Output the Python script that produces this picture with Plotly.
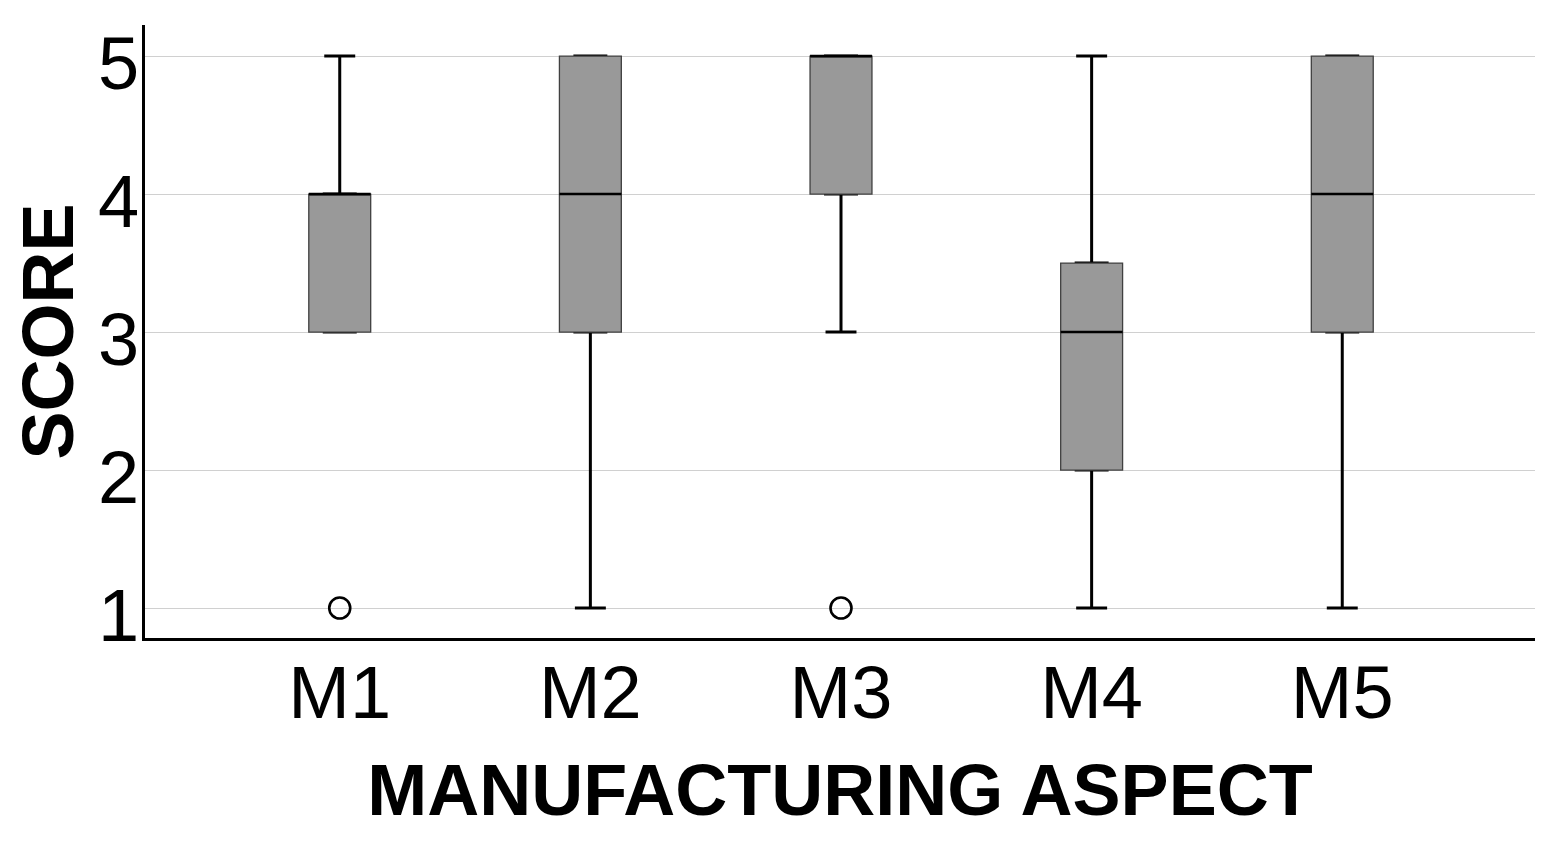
import plotly.graph_objects as go

categories = ["M1", "M2", "M3", "M4", "M5"]
q1 = [3, 3, 4, 2, 3]
median = [4, 4, 5, 3, 4]
q3 = [4, 5, 5, 3.5, 5]
lower_fence = [3, 1, 3, 1, 1]
upper_fence = [5, 5, 5, 5, 5]
outlier_cats = ["M1", "M3"]
outlier_vals = [1, 1]
y_ticks = [1, 2, 3, 4, 5]

FONT = "Liberation Sans, Arial, sans-serif"
BOX_W = 0.247

fig = go.Figure()

# whiskers (black, thick) - narrow box hidden behind the main box
fig.add_trace(go.Box(
    x=categories, q1=q1, median=median, q3=q3,
    lowerfence=lower_fence, upperfence=upper_fence,
    width=BOX_W / 2, whiskerwidth=1,
    fillcolor="#999999", line=dict(color="black", width=3),
    hoverinfo="skip", showlegend=False,
))
# main box (gray fill, thin dark outline)
fig.add_trace(go.Box(
    x=categories, q1=q1, median=median, q3=q3,
    lowerfence=q1, upperfence=q3,
    width=BOX_W, whiskerwidth=0,
    fillcolor="#999999", line=dict(color="#404040", width=1.3),
    showlegend=False,
))
# median line (black)
fig.add_trace(go.Box(
    x=categories, q1=median, median=median, q3=median,
    lowerfence=median, upperfence=median,
    width=BOX_W, whiskerwidth=0,
    fillcolor="rgba(0,0,0,0)", line=dict(color="black", width=2.5),
    hoverinfo="skip", showlegend=False,
))
# outliers
fig.add_trace(go.Scatter(
    x=outlier_cats, y=outlier_vals, mode="markers",
    marker=dict(symbol="circle-open", size=21, color="black", line=dict(width=2.6)),
    showlegend=False,
))

fig.update_layout(
    width=1557, height=842,
    margin=dict(l=137, r=30, t=17, b=212),
    paper_bgcolor="white", plot_bgcolor="white",
    boxmode="overlay",
    font=dict(family=FONT, color="black"),
)
fig.update_xaxes(
    type="category", categoryorder="array", categoryarray=categories,
    range=[-0.777, 4.769], automargin=False,
    showline=True, linecolor="black", linewidth=3,
    ticks="", showgrid=False, zeroline=False,
    ticklabelstandoff=-12,
    tickfont=dict(size=74, family=FONT, color="black"),
    title=dict(text="<b>MANUFACTURING ASPECT</b>", font=dict(size=72, family=FONT, color="black"), standoff=32),
)
fig.update_yaxes(
    range=[0.783, 5.225], tickvals=y_ticks, ticktext=[str(v) for v in y_ticks],
    automargin=False,
    showline=True, linecolor="black", linewidth=3,
    ticks="", showgrid=True, gridcolor="#d0d0d0", gridwidth=1.3, zeroline=False,
    ticklabelstandoff=-12, ticklabelshift=7, ticklabeloverflow="allow",
    tickfont=dict(size=74, family=FONT, color="black"),
    title=dict(text="<b>SCORE</b>", font=dict(size=72, family=FONT, color="black"), standoff=39),
)

fig.write_html("out.html")
